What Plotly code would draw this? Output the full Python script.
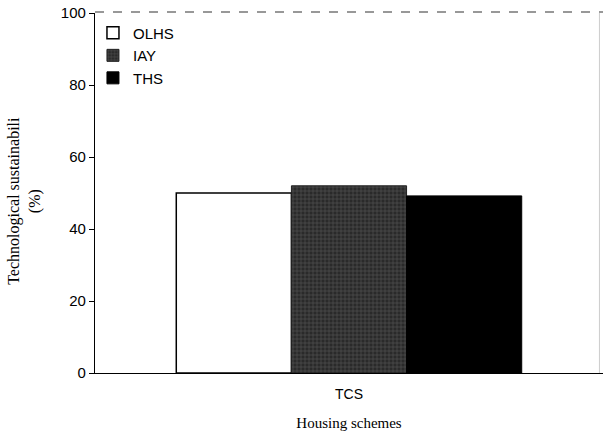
import plotly.graph_objects as go

categories = ["TCS"]
series_names = ["OLHS", "IAY", "THS"]
olhs = [50]
iay = [52]
ths = [49.2]
y_ticks = [0, 20, 40, 60, 80, 100]

fig = go.Figure()
fig.add_trace(go.Bar(x=categories, y=olhs, name=series_names[0],
                     marker=dict(color="white", line=dict(color="black", width=1.5))))
fig.add_trace(go.Bar(x=categories, y=iay, name=series_names[1],
                     marker=dict(color="#2a2a2a", line=dict(color="#222", width=1),
                                 pattern=dict(shape="+", fgcolor="#8a8a8a", bgcolor="#2a2a2a",
                                              size=4, solidity=0.25))))
fig.add_trace(go.Bar(x=categories, y=ths, name=series_names[2],
                     marker=dict(color="black", line=dict(color="black", width=1))))

fig.update_layout(
    width=605, height=434,
    margin=dict(l=95, r=2, t=13, b=61, autoexpand=False),
    paper_bgcolor="white", plot_bgcolor="white",
    barmode="group", bargap=0.32, bargroupgap=0,
    font=dict(family="Liberation Sans, Arial", size=14, color="black"),
    showlegend=True,
    legend=dict(x=-0.004, y=0.99, xanchor="left", yanchor="top",
                bgcolor="rgba(0,0,0,0)", font=dict(size=15),
                itemwidth=30, tracegroupgap=0, itemclick=False),
    xaxis=dict(showline=True, linecolor="black", linewidth=1.2, ticks="",
               automargin=False, tickfont=dict(size=14), ticklabelstandoff=8,
               title=dict(text="Housing schemes",
                          font=dict(family="Liberation Serif, Times New Roman", size=15),
                          standoff=16)),
    yaxis=dict(range=[0, 100], tickvals=y_ticks, showline=True, linecolor="black",
               linewidth=1.2, ticks="outside", ticklen=5, tickcolor="black",
               automargin=False, ticklabeloverflow="allow",
               showgrid=False, zeroline=False, tickfont=dict(size=15)),
    annotations=[
        dict(text="Technological sustainabili<br>(%)", textangle=-90,
             xref="paper", yref="paper", x=-0.138, y=0.478,
             xanchor="center", yanchor="middle", showarrow=False,
             font=dict(family="Liberation Serif, Times New Roman", size=16)),
    ],
    shapes=[
        dict(type="line", xref="paper", yref="paper", x0=0, x1=1, y0=1.003, y1=1.003,
             line=dict(color="#777", width=1.5, dash="dash")),
        dict(type="line", xref="paper", yref="paper", x0=0.993, x1=0.993, y0=0, y1=1,
             line=dict(color="#ccc", width=1)),
    ],
)

fig.write_html("out.html", config={"displayModeBar": False},
               post_script="document.body.style.margin='0';")
